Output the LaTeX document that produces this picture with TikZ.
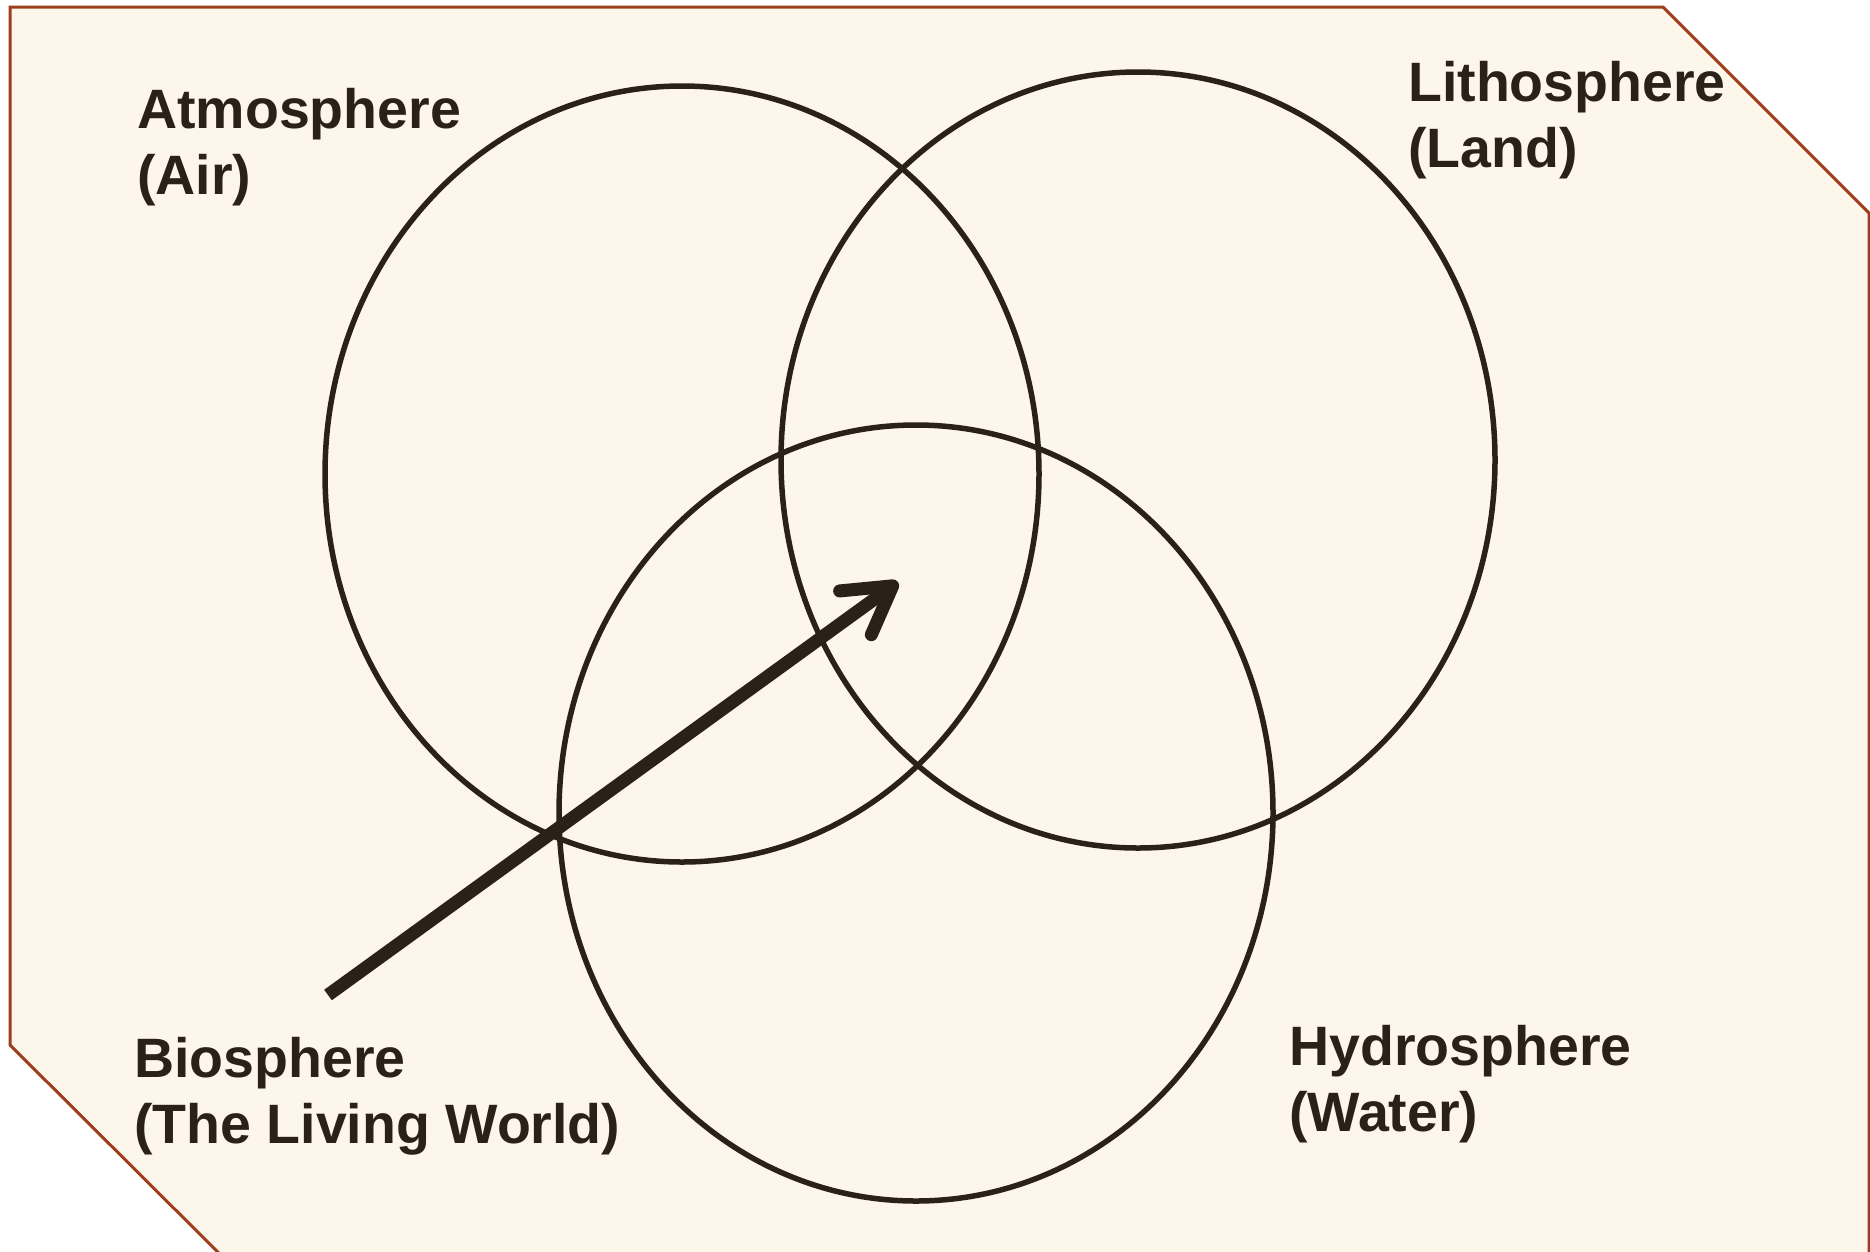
\documentclass[tikz,border=0pt]{standalone}
\usepackage{fontspec}
\setmainfont{Liberation Sans}
\usetikzlibrary{shapes.geometric,arrows.meta}
\begin{document}
\definecolor{cream}{HTML}{FDF7EB}
\definecolor{rim}{HTML}{9E3D1C}
\definecolor{ink}{HTML}{2A2118}
\tikzset{
  sphere/.style={ellipse, draw=ink, line width=5.5pt, minimum width=714pt, minimum height=776pt, inner sep=0pt},
  lbl/.style={anchor=base west, inner sep=0pt, align=left, text=ink, font=\bfseries\fontsize{55.5}{66}\selectfont},
  pointer/.style={draw=ink, line width=13pt, -{Straight Barb[length=46pt, width=54pt, round]}}
}
\begin{tikzpicture}[x=1pt, y=-1pt]
\useasboundingbox (0,0) rectangle (1870,1251);
\fill[white] (0,0) rectangle (1870,1251);
\filldraw[fill=cream, draw=rim, line width=3pt, line join=miter]
  (10,7) -- (1663,7) -- (1869,213) -- (1869,1300) -- (266,1300) -- (10,1045) -- cycle;
\node[sphere] (atmo) at (682,474) {};
\node[sphere] (litho) at (1138,460) {};
\node[sphere] (hydro) at (916,813) {};
\node[lbl] (latmo) at (137,194) {Atmosphere\\(Air)};
\node[lbl] (llitho) at (1408,167) {Lithosphere\\(Land)};
\node[lbl] (lbio) at (134,1143) {Biosphere\\(The Living World)};
\node[lbl] (lhydro) at (1289,1131) {Hydrosphere\\(Water)};
\coordinate (tail) at (328,995);
\coordinate (tip) at (898,582);
\draw[pointer] (tail) -- (tip);
\end{tikzpicture}
\end{document}
